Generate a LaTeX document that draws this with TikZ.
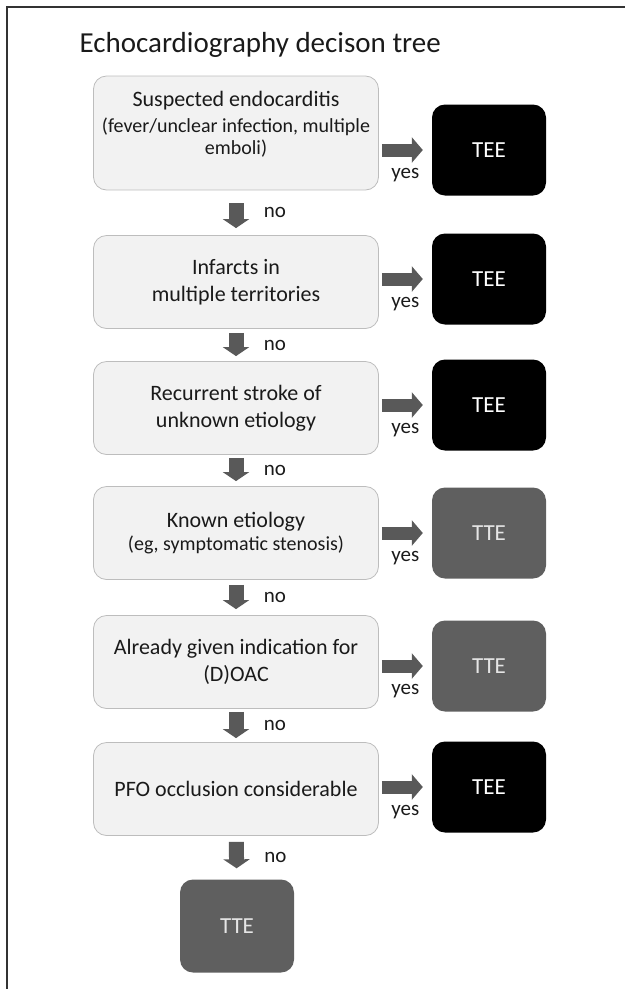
\documentclass[tikz,border=0pt]{standalone}
\usepackage{fontspec}
\setmainfont{Carlito}
\usetikzlibrary{arrows.meta}

\definecolor{boxfill}{HTML}{F2F2F2}
\definecolor{boxline}{HTML}{BDBDBD}
\definecolor{arrowgray}{HTML}{595959}
\definecolor{ttegray}{HTML}{5F5F5F}
\definecolor{inkgray}{HTML}{1A1A1A}

\newcommand{\subfont}{\fontsize{20}{24}\selectfont}

\begin{document}
\begin{tikzpicture}[x=1pt,y=-1pt]
\useasboundingbox (0,0) rectangle (625,989);
\draw[line width=2.2pt, black!80] (7,989) -- (7,7) -- (625,7);

\node[anchor=west, text=inkgray, font=\fontsize{29}{33}\selectfont] (title) at (76,45) {Echocardiography decison tree};

\begin{scope}[every node/.style={draw=boxline, fill=boxfill, rounded corners=13pt, thick, minimum width=285pt, minimum height=93pt, inner xsep=1pt, align=center, text=inkgray, font=\fontsize{22}{27}\selectfont}]
    \node[minimum height=114pt, text depth=20pt] (endo) at (236,133) {Suspected endocarditis\\[-1pt]{\subfont (fever/unclear infection, multiple}\\[-5pt]{\subfont emboli)}};
    \node (infarct) at (236,282) {Infarcts in\\multiple territories};
    \node (recurrent) at (236,408) {Recurrent stroke of\\unknown etiology};
    \node (known) at (236,533) {Known etiology\\[-4pt]{\subfont (eg, symptomatic stenosis)}};
    \node (oac) at (236,662) {Already given indication for\\(D)OAC};
    \node (pfo) at (236,789) {PFO occlusion considerable};
\end{scope}

\begin{scope}[every node/.style={rounded corners=13pt, minimum width=114pt, minimum height=91pt, text=white, font=\fontsize{23}{26}\selectfont}]
    \node[fill=black] (tee1) at (489,150) {TEE};
    \node[fill=black] (tee2) at (489,279) {TEE};
    \node[fill=black] (tee3) at (489,405) {TEE};
    \node[fill=ttegray, text=white!90!black] (tte4) at (489,533) {TTE};
    \node[fill=ttegray, text=white!90!black] (tte5) at (489,666) {TTE};
    \node[fill=black] (tee6) at (489,787) {TEE};
    \node[fill=ttegray, text=white!90!black, minimum height=93pt] (tteend) at (237,926) {TTE};
\end{scope}

% yes arrows
\begin{scope}[every edge/.style={draw=arrowgray, line width=13pt, -{Triangle[width=25pt,length=11pt]}},
              every node/.style={text=inkgray, font=\fontsize{21}{24}\selectfont}]
    \path (endo.east |- tee1) edge[shorten <=3pt, shorten >=9pt] node[below=8pt] {yes} (tee1);
    \path (infarct.east |- tee2) edge[shorten <=3pt, shorten >=9pt] node[below=8pt] {yes} (tee2);
    \path (recurrent.east |- tee3) edge[shorten <=3pt, shorten >=9pt] node[below=8pt] {yes} (tee3);
    \path (known.east |- tte4) edge[shorten <=3pt, shorten >=9pt] node[below=8pt] {yes} (tte4);
    \path (oac.east |- tte5) edge[shorten <=3pt, shorten >=9pt] node[below=8pt] {yes} (tte5);
    \path (pfo.east |- tee6) edge[shorten <=3pt, shorten >=9pt] node[below=8pt] {yes} (tee6);
\end{scope}

% no arrows
\begin{scope}[every edge/.style={draw=arrowgray, line width=15pt, -{Triangle[width=26pt,length=9pt]}},
              every node/.style={text=inkgray, font=\fontsize{21}{24}\selectfont}]
    \path (endo) edge[shorten <=13pt, shorten >=7pt] node[right=17pt] {no} (infarct);
    \path (infarct) edge[shorten <=4pt, shorten >=5pt] node[right=17pt] {no} (recurrent);
    \path (recurrent) edge[shorten <=3pt, shorten >=5pt] node[right=17pt] {no} (known);
    \path (known) edge[shorten <=5pt, shorten >=6pt] node[right=17pt] {no} (oac);
    \path (oac) edge[shorten <=3pt, shorten >=4pt] node[right=17pt] {no} (pfo);
    \path (pfo) edge[shorten <=6pt, shorten >=11pt] node[right=17pt] {no} (tteend);
\end{scope}
\end{tikzpicture}
\end{document}
